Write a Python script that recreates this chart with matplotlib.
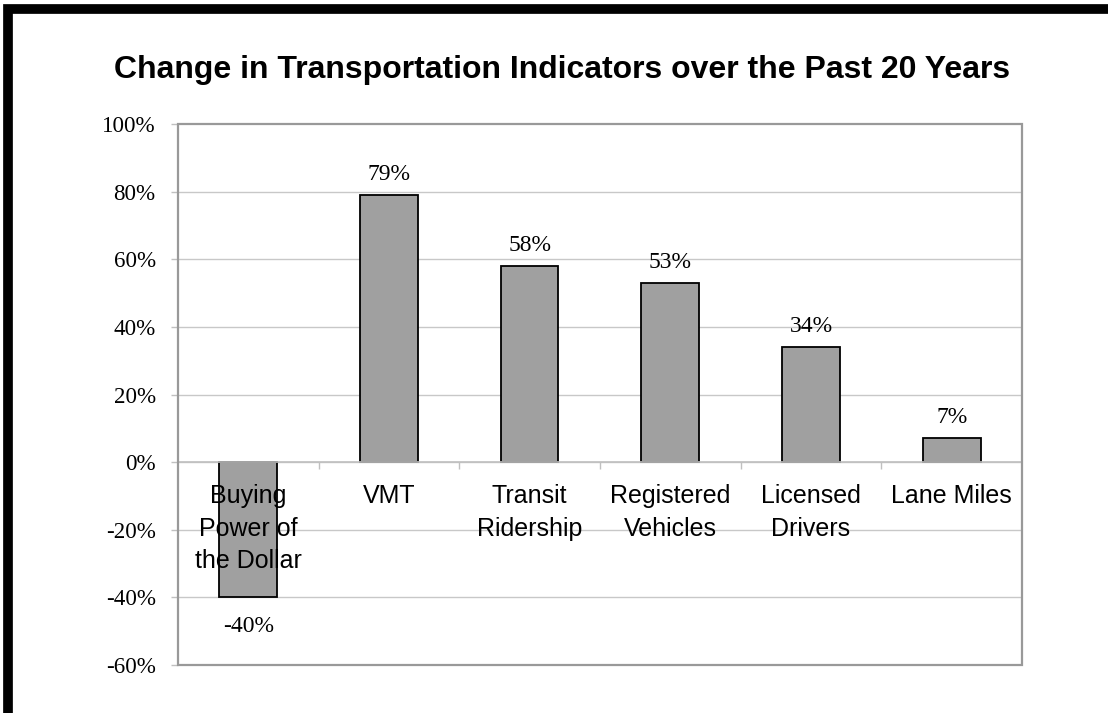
import numpy as np
import matplotlib
matplotlib.use("Agg")
import matplotlib.pyplot as plt
from matplotlib.patches import Rectangle
from matplotlib.ticker import FixedLocator, PercentFormatter

# data
categories = ["Buying\nPower of\nthe Dollar", "VMT", "Transit\nRidership",
              "Registered\nVehicles", "Licensed\nDrivers", "Lane Miles"]
change_pct = [-40, 79, 58, 53, 34, 7]
y_ticks = [-60, -40, -20, 0, 20, 40, 60, 80, 100]

title = "Change in Transportation Indicators over the Past 20 Years"

plt.rcParams["axes.unicode_minus"] = False
sans = ["Liberation Sans", "DejaVu Sans"]
serif = ["Liberation Serif", "DejaVu Serif"]

fig = plt.figure(figsize=(11.08, 7.13), dpi=100)
ax = fig.add_axes([0.1606, 0.0673, 0.9224 - 0.1606, 0.8261 - 0.0673])

x = np.arange(len(categories))
# gridlines behind the bars
for t in y_ticks[1:-1]:
    ax.axhline(t, color="#c8c8c8", linewidth=1, zorder=0)
ax.bar(x, change_pct, width=0.41, color="#a0a0a0", edgecolor="black",
       linewidth=1.3, zorder=3)

# data labels
for xi, v in zip(x, change_pct):
    if v >= 0:
        ax.annotate(f"{v}%", (xi, v), xytext=(0, 10.8), textcoords="offset points",
                    ha="center", va="baseline", family=serif, fontsize=17)
    else:
        ax.annotate(f"{v}%", (xi, v), xytext=(0, -25), textcoords="offset points",
                    ha="center", va="baseline", family=serif, fontsize=17)

ax.set_xlim(-0.5, len(categories) - 0.5)
ax.set_ylim(y_ticks[0], y_ticks[-1])
ax.yaxis.set_major_locator(FixedLocator(y_ticks))
ax.yaxis.set_major_formatter(PercentFormatter(decimals=0))
for lab in ax.get_yticklabels():
    lab.set_family(serif)
ax.tick_params(axis="y", length=5, width=1, color="#c0c0c0", pad=11, labelsize=16.6)

# category axis sits on the zero line, ticks between categories
ax.spines["bottom"].set_position(("data", 0))
ax.spines["bottom"].set_color("#c0c0c0")
ax.spines["bottom"].set_linewidth(1.2)
ax.spines["bottom"].set_zorder(4)
ax.xaxis.set_zorder(4)
ax.set_xticks(x)
ax.set_xticklabels(categories, family=sans, fontsize=18, linespacing=1.45)
ax.set_xticks(x[:-1] + 0.5, minor=True)
ax.tick_params(axis="x", which="major", length=0, pad=16)
ax.tick_params(axis="x", which="minor", length=5, width=1, color="#c0c0c0", direction="out")

for s in ["top", "right", "left"]:
    ax.spines[s].set_visible(False)
# plot area border
ax.add_patch(Rectangle((0, 0), 1, 1, transform=ax.transAxes, fill=False,
                       edgecolor="#999999", linewidth=1.6, zorder=5, clip_on=False))

fig.text(0.507, 1 - 78 / 713, title, ha="center", va="baseline",
         family=sans, fontsize=23, fontweight="bold")

# black frame around the chart (left and top edges show)
fig.add_artist(Rectangle((7.5 / 1108, -0.2), 2, 1.2 - 8.5 / 713, transform=fig.transFigure,
                         fill=False, edgecolor="black", linewidth=7, clip_on=False))

fig.savefig("out.png", dpi=100)
